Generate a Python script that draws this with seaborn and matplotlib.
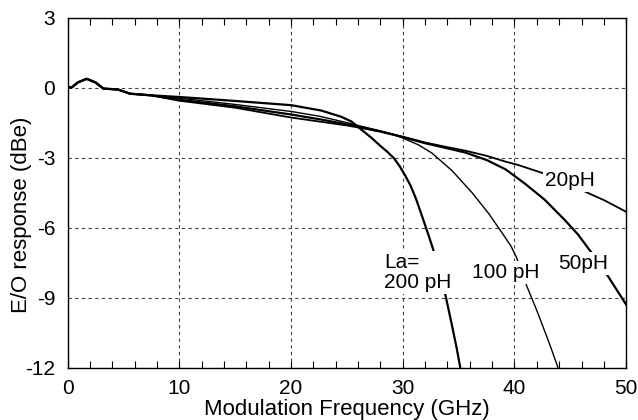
import numpy as np
import pandas as pd
import matplotlib
matplotlib.use("Agg")
import matplotlib.pyplot as plt
from matplotlib.ticker import MultipleLocator
import seaborn as sns

# ---- data ----
common_x = [0, 0.4, 0.9, 1.7, 2.5, 3.2, 4.5, 5.6, 7.5]
common_y = [0.0, 0.02, 0.22, 0.38, 0.22, -0.04, -0.08, -0.26, -0.33]

x_200 = [10, 15, 20, 22.7, 24.5, 25.4, 26.3, 27.2, 28.0, 28.6, 29.2, 29.7, 30.2, 30.7, 31.2, 31.9, 32.5, 33.2, 33.8, 34.3, 34.8, 35.15]
y_200 = [-0.40, -0.57, -0.75, -0.98, -1.25, -1.45, -1.8, -2.15, -2.5, -2.74, -3.02, -3.35, -3.75, -4.2, -4.78, -5.75, -6.6, -7.65, -8.85, -9.95, -11.1, -12.0]

x_100 = [10, 15, 20, 22.5, 25, 26.5, 28, 29.2, 30.2, 31.4, 32.6, 34.4, 36.2, 37.7, 39.0, 39.7, 40.2, 41.1, 42.0, 43.0, 43.9]
y_100 = [-0.45, -0.72, -1.02, -1.22, -1.5, -1.68, -1.85, -2.0, -2.2, -2.45, -2.8, -3.55, -4.5, -5.4, -6.3, -6.8, -7.3, -8.5, -9.55, -10.8, -12.0]

x_50 = [10, 15, 20, 22.5, 25, 26.5, 28, 30, 32, 34, 35.6, 37.5, 39.2, 40.9, 42.7, 44.5, 45.7, 46.6, 47.5, 48.4, 50]
y_50 = [-0.52, -0.80, -1.15, -1.35, -1.57, -1.72, -1.88, -2.12, -2.38, -2.6, -2.78, -3.1, -3.5, -4.1, -4.8, -5.67, -6.3, -6.88, -7.45, -8.1, -9.3]

x_20 = [10, 15, 20, 22.5, 25, 26.5, 28, 30, 32, 34, 35.6, 37.5, 39.2, 40.3, 42.4, 44.5, 46.8, 48.1, 50]
y_20 = [-0.56, -0.86, -1.28, -1.45, -1.62, -1.75, -1.88, -2.1, -2.35, -2.55, -2.7, -2.92, -3.17, -3.31, -3.64, -4.05, -4.56, -4.84, -5.32]

series_names = ["200 pH", "100 pH", "50 pH", "20 pH"]
series_x = [x_200, x_100, x_50, x_20]
series_y = [y_200, y_100, y_50, y_20]
line_widths = [1.6, 1.0, 1.6, 1.3]

x_ticks = [0, 10, 20, 30, 40, 50]
y_ticks = [-12, -9, -6, -3, 0, 3]

labels_text = ["La=\n200 pH", "100 pH", "50pH", "20pH"]

# ---- build table ----
rows = []
for name, xs, ys in zip(series_names, series_x, series_y):
    for xv, yv in zip(common_x + xs, common_y + ys):
        rows.append({"f": xv, "r": yv, "La": name})
df = pd.DataFrame(rows)

sns.set_theme(style="white")
plt.rcParams["font.family"] = ["Liberation Sans", "DejaVu Sans"]
plt.rcParams["axes.unicode_minus"] = False
plt.rcParams["text.color"] = "black"
plt.rcParams["xtick.color"] = "black"
plt.rcParams["ytick.color"] = "black"
plt.rcParams["axes.labelcolor"] = "black"

fig = plt.figure(figsize=(6.38, 4.2), dpi=100)
ax = fig.add_axes([0.106, 0.1245, 0.8755, 0.8335])

for name, lw in zip(series_names, line_widths):
    sns.lineplot(data=df[df["La"] == name], x="f", y="r", color="black",
                 linewidth=lw, ax=ax, sort=False, estimator=None, legend=False)

ax.set_xlim(0, 50)
ax.set_ylim(-12, 3)
ax.set_xticks(x_ticks)
ax.set_yticks(y_ticks)
ax.set_xticklabels([str(t) for t in x_ticks])
ax.set_yticklabels([str(t) for t in y_ticks])
ax.xaxis.set_minor_locator(MultipleLocator(2))

ax.grid(True, which="major", color="#444444", linestyle=(0, (3, 3)), linewidth=0.8)
ax.set_axisbelow(True)

for s in ax.spines.values():
    s.set_color("black")
    s.set_linewidth(1.0)
    s.set_visible(True)

ax.tick_params(axis="x", which="both", direction="in", top=True, bottom=True,
               length=5, width=0.8, color="black", labelcolor="black", labelsize=15, pad=8)
ax.tick_params(axis="y", which="both", left=True, length=0, labelcolor="black", labelsize=15, pad=9)

ax.set_xlabel("Modulation Frequency (GHz)", fontsize=16, labelpad=1, color="black")
ax.set_ylabel("E/O response (dBe)", fontsize=16, color="black", va="center")
ax.yaxis.set_label_coords(-0.082, 0.436)

bbox = dict(facecolor="white", edgecolor="none", pad=1.5)
ax.text(28.3, -7.92, labels_text[0], ha="left", va="center", fontsize=15,
        linespacing=1.05, bbox=bbox, zorder=5, color="black")
ax.text(39.24, -7.92, labels_text[1], ha="center", va="center", fontsize=15, bbox=bbox, zorder=5, color="black")
ax.text(46.13, -7.54, labels_text[2], ha="center", va="center", fontsize=15, bbox=bbox, zorder=5, color="black")
ax.text(45.0, -3.98, labels_text[3], ha="center", va="center", fontsize=15, bbox=bbox, zorder=5, color="black")

fig.savefig("out.png", dpi=100, facecolor="white")
